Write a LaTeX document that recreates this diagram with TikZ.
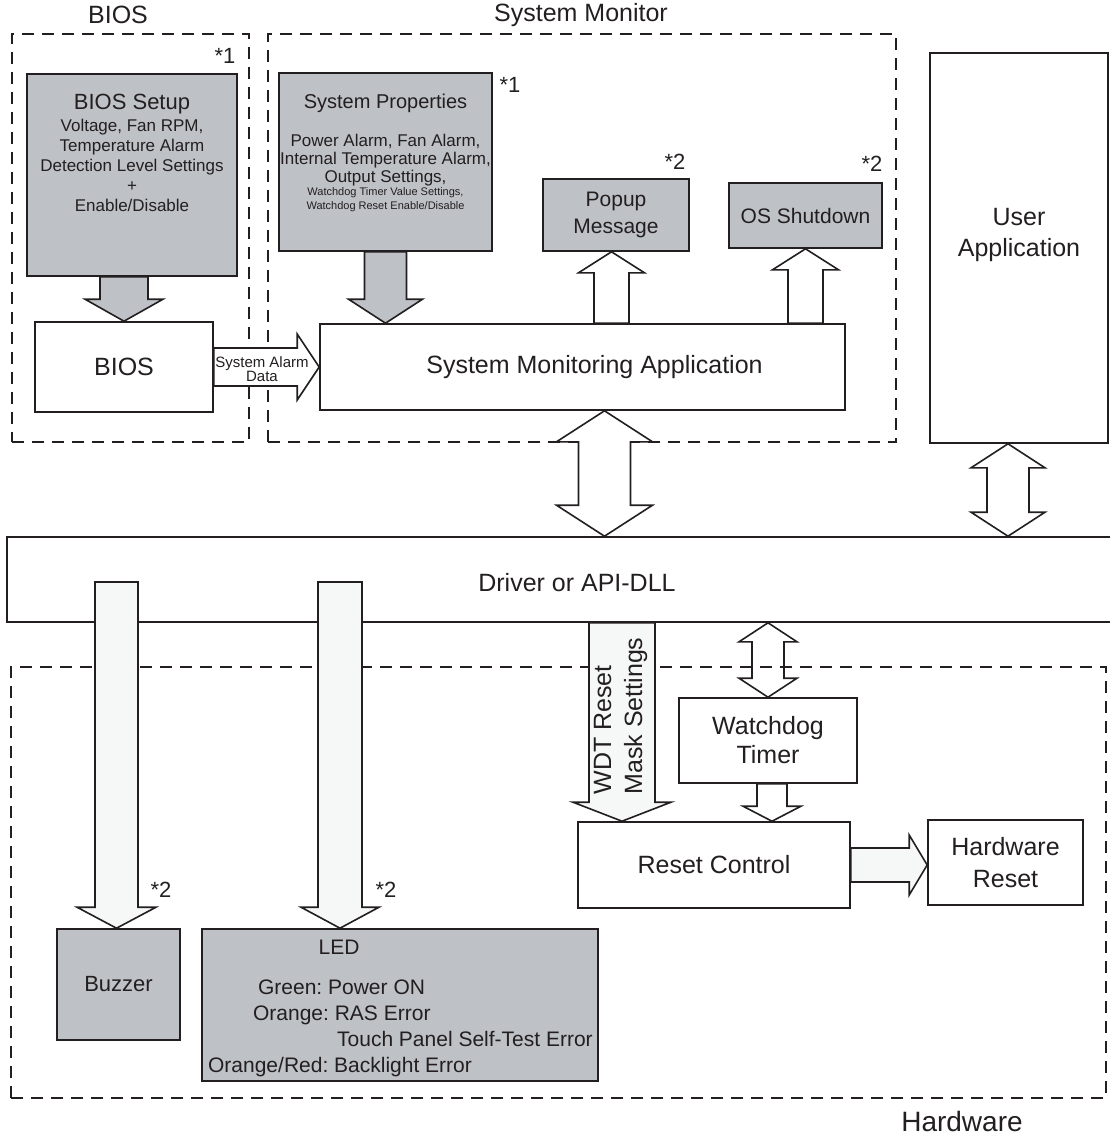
\documentclass[tikz,border=0pt]{standalone}
\usepackage{fontspec}
\setmainfont{Liberation Sans}
\usetikzlibrary{calc}
\frenchspacing

\definecolor{ink}{RGB}{35,31,32}
\definecolor{panel}{RGB}{190,193,198}
\definecolor{pale}{RGB}{246,248,248}

\newcommand{\fsz}[2]{\fontsize{#1}{#2}\selectfont}
% block arrow: [opts]{start}{tip}{shaft half}{head half}{head length}
\newcommand{\blkarrow}[6][]{%
  \path (#2) coordinate (bk0) (#3) coordinate (bk1);
  \path ($(bk1)!#6!(bk0)$) coordinate (bkb);
  \draw[blk,#1] ($(bk0)!#4!90:(bk1)$) -- ($(bkb)!#4!90:(bk1)$) -- ($(bkb)!#5!90:(bk1)$)
    -- (bk1) -- ($(bkb)!#5!-90:(bk1)$) -- ($(bkb)!#4!-90:(bk1)$) -- ($(bk0)!#4!-90:(bk1)$) -- cycle;}
% double block arrow
\newcommand{\dblarrow}[6][]{%
  \path (#2) coordinate (bk0) (#3) coordinate (bk1);
  \path ($(bk0)!#6!(bk1)$) coordinate (bka) ($(bk1)!#6!(bk0)$) coordinate (bkb);
  \draw[blk,#1] (bk0) -- ($(bka)!#5!90:(bk1)$) -- ($(bka)!#4!90:(bk1)$) -- ($(bkb)!#4!-90:(bk0)$)
    -- ($(bkb)!#5!-90:(bk0)$) -- (bk1) -- ($(bkb)!#5!90:(bk0)$) -- ($(bkb)!#4!90:(bk0)$)
    -- ($(bka)!#4!-90:(bk1)$) -- ($(bka)!#5!-90:(bk1)$) -- cycle;}

\begin{document}
\begin{tikzpicture}[x=1pt, y=-1pt, line width=1.6pt, ink,
    every node/.style={text=ink},
    box/.style={draw=ink, fill=white, inner sep=0pt},
    region/.style={draw=ink, dash pattern=on 12pt off 8pt, inner sep=0pt},
    blk/.style={draw=ink, fill=white, line join=miter},
    big/.style={font=\fsz{25}{31}},
    note/.style={font=\fsz{22}{24}}]
  \useasboundingbox (0,0) rectangle (1110,1136);

  % dashed groups
  \node[region, minimum width=237, minimum height=408] (biosreg) at (130.5,238) {};
  \node[region, minimum width=628, minimum height=408] (monreg) at (582,238) {};
  \node[region, minimum width=1095, minimum height=431] (hwreg) at (558.5,882.5) {};
  \node[big] at (118,15) {BIOS};
  \node[big] at (581,15) {System Monitor};
  \node[font=\fsz{28}{32}] at (962,1121) {Hardware};

  % BIOS
  \node[box, fill=panel, minimum width=210, minimum height=202] (biossetup) at (132,175) {};
  \node[align=center, font=\fsz{17}{20}] at (132,153)
    {{\fsz{22}{24}BIOS Setup}\\[2pt]Voltage, Fan RPM,\\Temperature Alarm\\Detection Level Settings\\+\\Enable/Disable};
  \node[note] at (225,56) {*1};
  \node[box, big, minimum width=178, minimum height=90] (bios) at (124,367) {BIOS};

  % system monitor
  \node[box, fill=panel, minimum width=213, minimum height=178] (sysprops) at (385.5,162) {};
  \node[font=\fsz{20}{22}] at (385.5,103) {System Properties};
  \node[align=center, font=\fsz{17}{18}] at (385.5,160) {Power Alarm, Fan Alarm,\\Internal Temperature Alarm,\\Output Settings,};
  \node[align=center, font=\fsz{11}{13.5}] at (385.5,199.5) {Watchdog Timer Value Settings,\\Watchdog Reset Enable/Disable};
  \node[note] at (510,85) {*1};
  \node[box, minimum width=525, minimum height=86,
    label={[big, xshift=12pt]center:System Monitoring Application}] (sma) at (582.5,367) {};
  \node[box, fill=panel, align=center, font=\fsz{21}{27}, minimum width=146, minimum height=72] (popup) at (616,215) {Popup\\Message};
  \node[note] at (675,162) {*2};
  \node[box, fill=panel, font=\fsz{21}{25}, minimum width=153, minimum height=65] (osdown) at (805.5,215.5) {OS Shutdown};
  \node[note] at (872,164) {*2};

  \node[box, minimum width=178, minimum height=390,
    label={[big, align=center, yshift=13pt]center:User\\Application}] (userapp) at (1019,248) {};
  \node[box, minimum width=1113, minimum height=85,
    label={[big, xshift=13.5pt, yshift=-3.5pt]center:Driver or API-DLL}] (driver) at (563.5,579.5) {};

  % hardware
  \node[box, align=center, font=\fsz{25}{29}, minimum width=178, minimum height=85] (wdtimer) at (768,740.5) {Watchdog\\Timer};
  \node[box, font=\fsz{25}{30}, minimum width=272, minimum height=86] (resetctl) at (714,865) {Reset Control};
  \node[box, align=center, font=\fsz{25}{32}, minimum width=155, minimum height=85] (hwreset) at (1005.5,862.5) {Hardware\\Reset};
  \node[box, fill=panel, font=\fsz{22}{26}, minimum width=123, minimum height=111] (buzzer) at (118.5,984.5) {Buzzer};
  \node[box, fill=panel, minimum width=396, minimum height=152] (led) at (400,1005) {};
  \node[font=\fsz{21}{25}, anchor=base] at (339,954.5) {LED};
  \node[font=\fsz{21}{25}, anchor=base west] at (254,994.5) {Green: Power ON};
  \node[font=\fsz{21}{25}, anchor=base west] at (249,1020.5) {Orange: RAS Error};
  \node[font=\fsz{21}{25}, anchor=base west] at (333,1046.5) {Touch Panel Self-Test Error};
  \node[font=\fsz{21}{25}, anchor=base west] at (204,1072.5) {Orange/Red: Backlight Error};
  \node[note] at (161,890) {*2};
  \node[note] at (386,890) {*2};

  \coordinate (ledx) at (340,0);
  \coordinate (wdtx) at (622,0);

  % block arrows
  \blkarrow[fill=panel]{bios.north |- biossetup.south}{bios.north}{24pt}{39pt}{22pt}
  \blkarrow[fill=panel]{sysprops.south}{sysprops.south |- sma.north}{21pt}{37pt}{24pt}
  \blkarrow{bios.east}{sma.west}{19pt}{33pt}{22pt}
  \node[align=center, font=\fsz{15}{14.5}] at (262,369) {System Alarm\\Data};
  \blkarrow{$(popup.south |- sma.north)+(-4.5,0)$}{$(popup.south)+(-4.5,0)$}{17.5pt}{33pt}{21pt}
  \blkarrow{osdown.south |- sma.north}{osdown.south}{17.5pt}{33pt}{21pt}
  \dblarrow{$(sma.south)+(22,0)$}{$(driver.north -| sma.south)+(22,0)$}{26pt}{48pt}{31pt}
  \dblarrow{$(userapp.south)+(-11,0)$}{$(driver.north -| userapp.south)+(-11,0)$}{21pt}{37pt}{24pt}

  \blkarrow[fill=pale]{$(driver.center -| buzzer.north)+(-2,2.5)$}{$(buzzer.north)+(-2,0)$}{21.5pt}{39.5pt}{21pt}
  \blkarrow[fill=pale]{$(driver.center -| ledx)+(0,2.5)$}{led.north -| ledx}{22pt}{39pt}{21pt}
  \blkarrow[fill=pale]{driver.south -| wdtx}{resetctl.north -| wdtx}{33pt}{49pt}{19pt}
  \node[rotate=90, align=left, font=\fsz{25}{31}] at (620.5,716) {WDT Reset\\Mask Settings};
  \dblarrow[fill=none]{driver.south -| wdtimer.north}{wdtimer.north}{16pt}{29pt}{19pt}
  \blkarrow{$(wdtimer.south)+(4,0)$}{$(resetctl.north -| wdtimer.south)+(4,0)$}{15pt}{29pt}{15pt}
  \blkarrow[fill=pale]{resetctl.east}{resetctl.east -| hwreset.west}{17pt}{30pt}{18pt}
\end{tikzpicture}
\end{document}
